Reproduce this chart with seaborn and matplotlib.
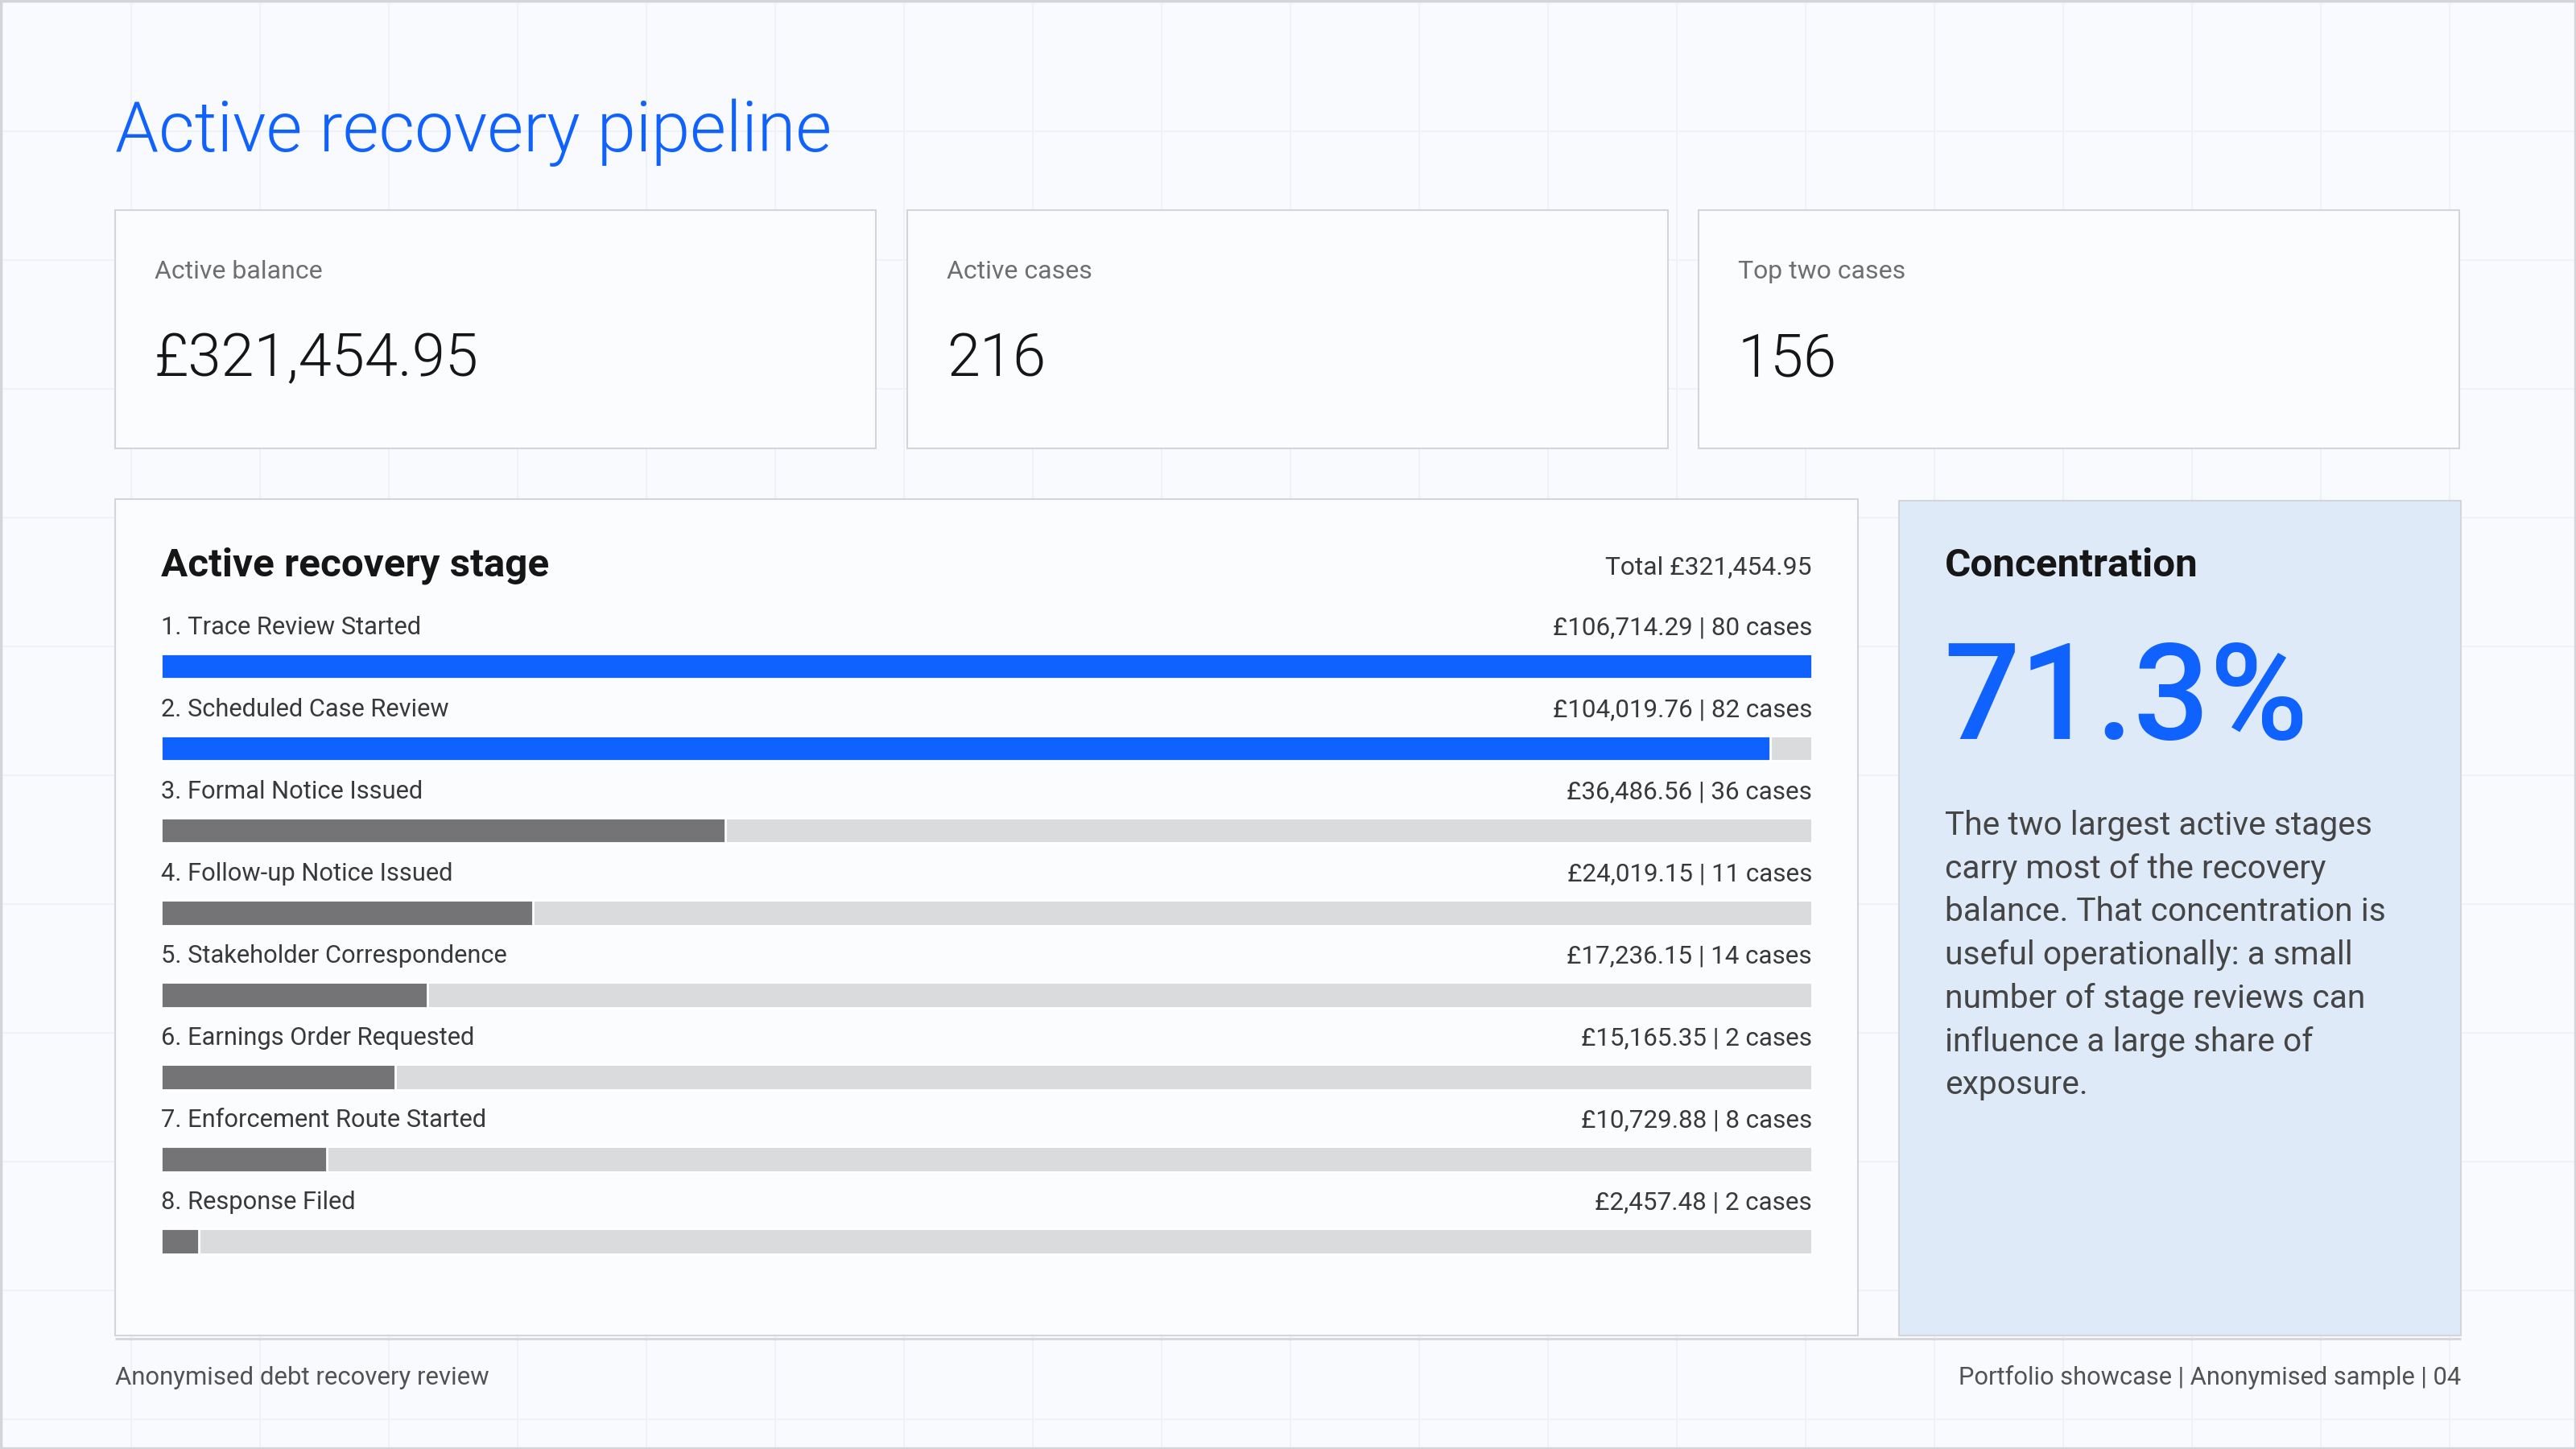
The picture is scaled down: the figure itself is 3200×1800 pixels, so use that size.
import numpy as np
import matplotlib
matplotlib.use("Agg")
import matplotlib.pyplot as plt
from matplotlib.patches import Rectangle
import seaborn as sns

# ---- data ----
stage_names = ["Trace Review Started", "Scheduled Case Review", "Formal Notice Issued",
               "Follow-up Notice Issued", "Stakeholder Correspondence", "Earnings Order Requested",
               "Enforcement Route Started", "Response Filed"]
stage_balance = [106714.29, 104019.76, 36486.56, 24019.15, 17236.15, 15165.35, 10729.88, 2457.48]
stage_cases = [80, 82, 36, 11, 14, 2, 8, 2]
highlight_n = 2

kpi_labels = ["Active balance", "Active cases", "Top two cases"]
active_balance = 321454.95
active_cases = 216
top_two_cases = 156
concentration_pct = 71.3

title = "Active recovery pipeline"
panel_title = "Active recovery stage"
side_title = "Concentration"
side_lines = ["The two largest active stages", "carry most of the recovery",
              "balance. That concentration is", "useful operationally: a small",
              "number of stage reviews can", "influence a large share of", "exposure."]
footer_left = "Anonymised debt recovery review"
footer_right = "Portfolio showcase | Anonymised sample | 04"

# ---- style ----
BLUE = "#0f62fe"
BAR_GREY = "#747476"
TRACK = "#dadbdd"
BG = "#f8fafd"
CARD = "#fbfcfe"
SIDE = "#dfeaf9"
EDGE = "#d3d5da"
GRID = "#eef2f8"

sns.set_theme(style="white")
plt.rcParams["font.family"] = ["Roboto", "DejaVu Sans"]

fig = plt.figure(figsize=(16, 9), dpi=200)
fig.patch.set_facecolor(BG)

# full-canvas axes in pixel units for the slide furniture
bg = fig.add_axes([0, 0, 1, 1], zorder=0)
bg.set_xlim(0, 3200)
bg.set_ylim(1800, 0)
bg.axis("off")

for gx in np.arange(3, 3200, 160):
    bg.vlines(gx, 0, 1800, color=GRID, lw=0.7, zorder=0)
for gy in np.arange(3, 1800, 160):
    bg.hlines(gy, 0, 3200, color=GRID, lw=0.7, zorder=0)
bg.add_patch(Rectangle((1, 1), 3198, 1798, fill=False, ec=EDGE, lw=1.2, zorder=5))


def box(x0, y0, x1, y1, fc):
    bg.add_patch(Rectangle((x0, y0), x1 - x0, y1 - y0, fc=fc, ec=EDGE, lw=0.75, zorder=1))


bg.text(143, 188, title, fontsize=31.2, fontweight=300, color=BLUE, va="baseline")

# KPI cards
kpi_values = [f"£{active_balance:,.2f}", f"{active_cases}", f"{top_two_cases}"]
card_x = [(143, 1088), (1127, 2072), (2110, 3055)]
for (x0, x1), lab, val in zip(card_x, kpi_labels, kpi_values):
    box(x0, 261, x1, 557, CARD)
    bg.text(x0 + 49, 346, lab, fontsize=11.5, color="#6f6f6f", va="baseline", zorder=3)
    bg.text(x0 + 49, 467, val, fontsize=26.7, fontweight=300, color="#161616",
            va="baseline", zorder=3)

# main panel and side panel
box(143, 620, 2308, 1659, CARD)
box(2359, 622, 3057, 1659, SIDE)
bg.hlines(1663, 143, 3057, color=EDGE, lw=1.0, zorder=2)

bg.text(200, 715, panel_title, fontsize=17.8, fontweight="bold", color="#161616",
        va="baseline", zorder=3)
bg.text(2251, 713, f"Total £{active_balance:,.2f}", fontsize=11.45, color="#393939",
        ha="right", va="baseline", zorder=3)

bg.text(2416, 716, side_title, fontsize=17.8, fontweight="bold", color="#161616",
        va="baseline", zorder=3)
bg.text(2414, 918, f"{concentration_pct:.1f}%", fontsize=60, fontweight="medium",
        color=BLUE, va="baseline", zorder=3)
for i, line in enumerate(side_lines):
    bg.text(2416, 1037 + 53.7 * i, line, fontsize=14.7, color="#454545",
            va="baseline", zorder=3)

bg.text(143, 1720, footer_left, fontsize=11.2, color="#525252", va="baseline")
bg.text(3057, 1720, footer_right, fontsize=11.1, color="#525252", ha="right", va="baseline")

# ---- bar chart ----
labels = [f"{i + 1}. {n}" for i, n in enumerate(stage_names)]
vmax = max(stage_balance)
colors = [BLUE if i < highlight_n else BAR_GREY for i in range(len(labels))]

ax = fig.add_axes([200 / 3200, 1 - 1592.9 / 1800, 2051 / 3200, 867.4 / 1800], zorder=2)
ax.patch.set_alpha(0)
sns.barplot(x=np.full(len(labels), vmax), y=labels, orient="h", color=TRACK,
            width=0.31, saturation=1, ax=ax)
sns.barplot(x=stage_balance, y=labels, hue=labels, palette=colors, orient="h",
            width=0.31, saturation=1, legend=False, ax=ax)
ax.set_xlim(0, vmax)
ax.set_ylim(len(labels) - 0.5, -1)
ax.axis("off")

for i, (lab, val, n) in enumerate(zip(labels, stage_balance, stage_cases)):
    ax.text(0, i - 0.388, lab, fontsize=11.1, color="#393939", va="baseline", ha="left")
    ax.text(vmax, i - 0.388, f"£{val:,.2f} | {n} cases", fontsize=11.3, color="#393939",
            va="baseline", ha="right")

fig.savefig("out.png", dpi=200, facecolor=fig.get_facecolor())
